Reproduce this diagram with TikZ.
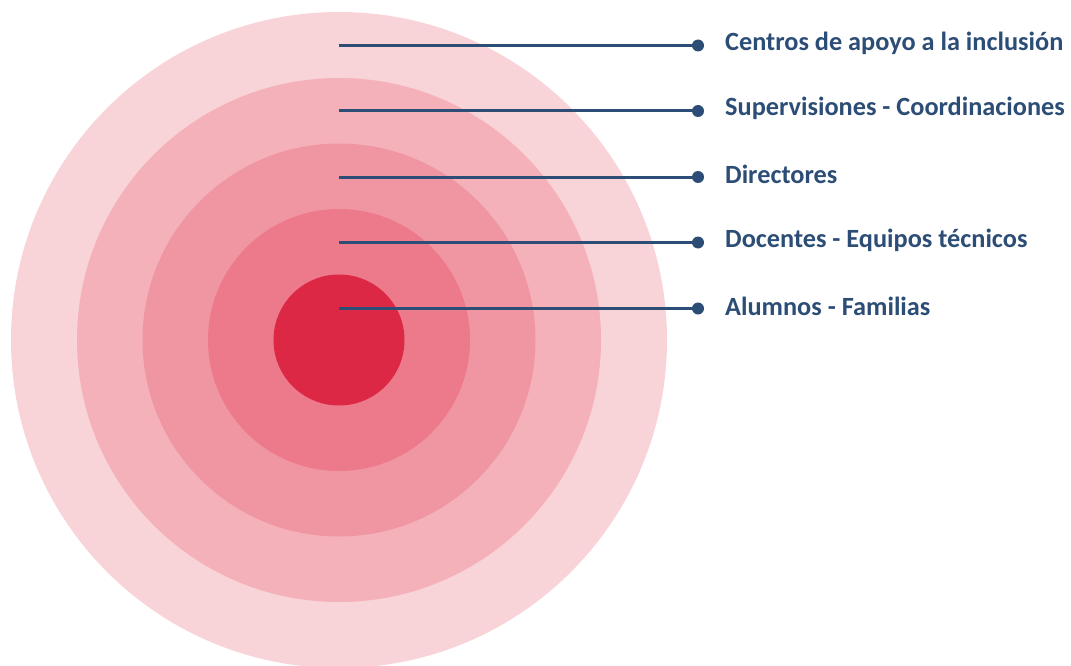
\documentclass[tikz,border=0pt]{standalone}
\usepackage{fontspec}
\setmainfont{Carlito}
\definecolor{ring1}{HTML}{F8D3D7}
\definecolor{ring2}{HTML}{F4B1BA}
\definecolor{ring3}{HTML}{F095A2}
\definecolor{ring4}{HTML}{EC7A8A}
\definecolor{ring5}{HTML}{DC2844}
\definecolor{navy}{HTML}{2C4D75}
\tikzset{
  ringfill/.style={circle, inner sep=0pt, minimum size=#1, draw=none},
  conn/.style={draw=navy, line width=3pt},
  dotend/.style={circle, fill=navy, inner sep=0pt, minimum size=12pt},
  lbl/.style={anchor=west, text=navy, font=\fontsize{26.3}{30}\selectfont\bfseries, inner sep=0pt},
}
\begin{document}
\begin{tikzpicture}[x=1pt,y=-1pt]
\useasboundingbox (0,0) rectangle (1071,666);
\node[ringfill=656pt, fill=ring1] (c1) at (339,340) {};
\node[ringfill=524pt, fill=ring2] (c2) at (339,340) {};
\node[ringfill=393pt, fill=ring3] (c3) at (339,340) {};
\node[ringfill=262pt, fill=ring4] (c4) at (339,340) {};
\node[ringfill=131pt, fill=ring5] (c5) at (339,340) {};
\coordinate (s1) at (339,45.5);
\coordinate (s2) at (339,111);
\coordinate (s3) at (339,177);
\coordinate (s4) at (339,242.5);
\coordinate (s5) at (339,308.5);
\node[dotend] (d1) at (698,45.5) {};
\node[dotend] (d2) at (698,111) {};
\node[dotend] (d3) at (698,177) {};
\node[dotend] (d4) at (698,242.5) {};
\node[dotend] (d5) at (698,308.5) {};
\draw[conn] (s1) -- (d1.center);
\draw[conn] (s2) -- (d2.center);
\draw[conn] (s3) -- (d3.center);
\draw[conn] (s4) -- (d4.center);
\draw[conn] (s5) -- (d5.center);
\node[lbl] (t1) at (725,43) {Centros de apoyo a la inclusión};
\node[lbl] (t2) at (725,108.5) {Supervisiones - Coordinaciones};
\node[lbl] (t3) at (725,174.5) {Directores};
\node[lbl] (t4) at (725,240) {Docentes - Equipos técnicos};
\node[lbl] (t5) at (725,306) {Alumnos - Familias};
\end{tikzpicture}
\end{document}
